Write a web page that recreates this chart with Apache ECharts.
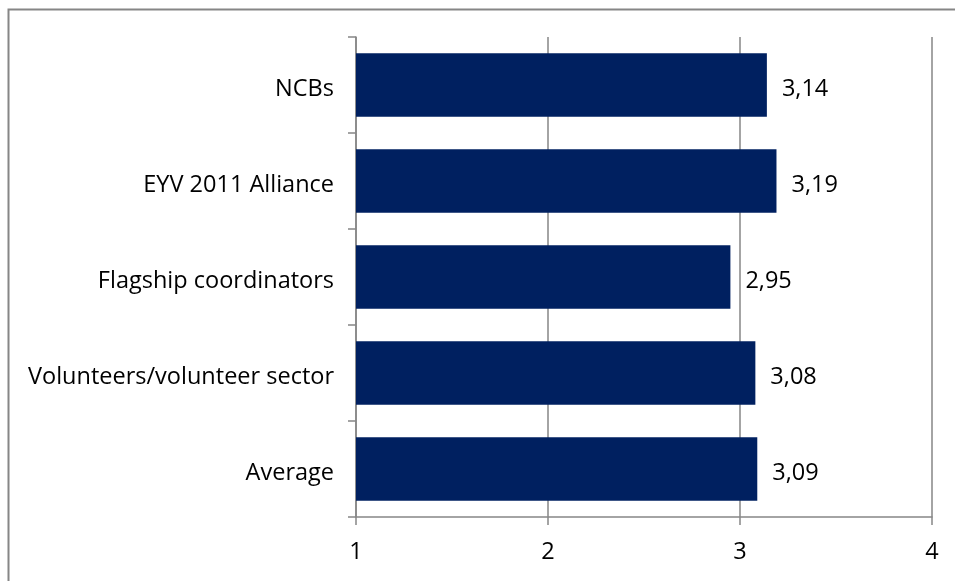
<!DOCTYPE html>
<html>
<head>
<meta charset="utf-8">
<script src="https://cdn.jsdelivr.net/npm/echarts@6/dist/echarts.min.js"></script>
<style>
  html, body { margin: 0; padding: 0; background: #ffffff; }
  #chart { width: 955px; height: 581px; }
</style>
</head>
<body>
<div id="chart"></div>
<script>
// Groups, listed top to bottom
const categories = ['NCBs', 'EYV 2011 Alliance', 'Flagship coordinators', 'Volunteers/volunteer sector', 'Average'];
// Mean score per group
const scores = [3.14, 3.19, 2.95, 3.08, 3.09];
// Value axis range and step
const axisMin = 1;
const axisMax = 4;
const axisStep = 1;

const fontFamily = '"Open Sans", "Noto Sans", sans-serif';
const fontSize = 23.5;
const gray = '#868686';

const chart = echarts.init(document.getElementById('chart'));
chart.setOption({
  animation: false,
  backgroundColor: '#ffffff',
  graphic: [{
    type: 'rect',
    shape: { x: 8.5, y: 9.5, width: 1000, height: 1000 },
    style: { fill: 'none', stroke: gray, lineWidth: 2 },
    silent: true
  }],
  grid: { left: 356, right: 23, top: 37, bottom: 64, containLabel: false },
  xAxis: {
    type: 'value',
    min: axisMin,
    max: axisMax,
    interval: axisStep,
    axisLine: { show: true, lineStyle: { color: gray, width: 1.5 } },
    axisTick: { show: true, length: 8, lineStyle: { color: gray, width: 1.5 } },
    splitLine: { show: true, lineStyle: { color: gray, width: 1.5 } },
    axisLabel: { color: '#000000', fontSize: fontSize, fontFamily: fontFamily, margin: 23 }
  },
  yAxis: {
    type: 'category',
    inverse: true,
    data: categories,
    axisLine: { show: true, lineStyle: { color: gray, width: 1.5 } },
    axisTick: { show: true, length: 8, alignWithLabel: false, lineStyle: { color: gray, width: 1.5 } },
    axisLabel: {
      margin: 22,
      formatter: v => '{c|' + v + '}',
      rich: {
        c: { color: '#000000', fontSize: fontSize, fontFamily: fontFamily, padding: [8, 0, 0, 0] }
      }
    }
  },
  series: [{
    type: 'bar',
    data: scores,
    barCategoryGap: '34%',
    itemStyle: { color: '#002060' },
    label: {
      show: true,
      position: 'right',
      distance: 15,
      offset: [0, 4],
      color: '#000000',
      fontSize: fontSize,
      fontFamily: fontFamily,
      formatter: p => p.value.toFixed(2).replace('.', ',')
    }
  }]
});
</script>
</body>
</html>
